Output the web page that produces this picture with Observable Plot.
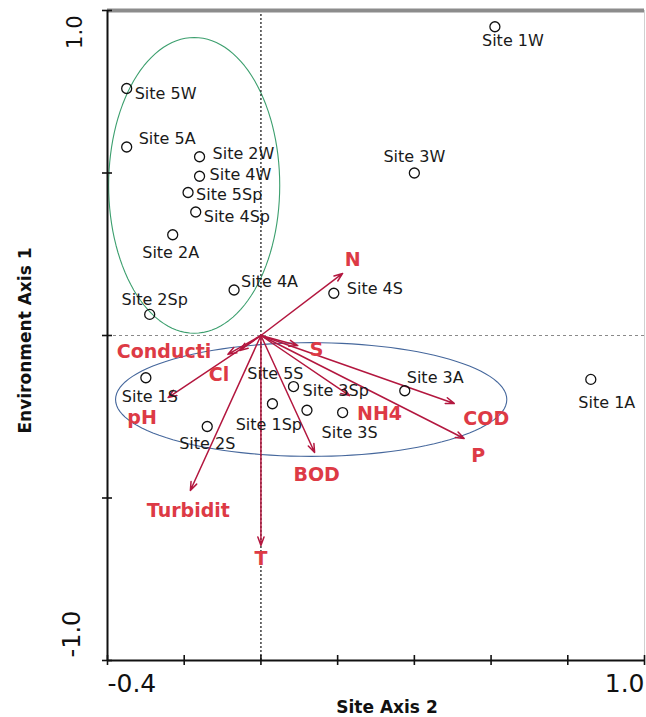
<!DOCTYPE html>
<html><head><meta charset="utf-8">
<script src="https://cdn.jsdelivr.net/npm/d3@7"></script>
<script src="https://cdn.jsdelivr.net/npm/@observablehq/plot@0.6"></script>
<style>
body{margin:0;background:#fff;}
#chart{width:646px;height:717px;overflow:hidden;}
g[aria-label="site-label"] text{letter-spacing:1.1px}
g[aria-label="env-label"] text{letter-spacing:1.8px}
g[aria-label="tick-label"] text{letter-spacing:2px}
</style>
</head><body><div id="chart"></div>
<script>
// ---- data ----
const siteNames = ["Site 1W","Site 5W","Site 5A","Site 2W","Site 4W","Site 5Sp","Site 4Sp","Site 2A","Site 4A","Site 2Sp","Site 3W","Site 4S","Site 1S","Site 1A","Site 3A","Site 3Sp","Site 5S","Site 1Sp","Site 3S","Site 2S"];
const siteX = [0.61,-0.35,-0.35,-0.16,-0.16,-0.19,-0.17,-0.23,-0.07,-0.29,0.40,0.19,-0.30,0.86,0.375,0.085,0.03,0.12,0.213,-0.14];
const siteY = [0.95,0.76,0.58,0.55,0.49,0.44,0.38,0.31,0.14,0.065,0.50,0.13,-0.13,-0.135,-0.17,-0.157,-0.21,-0.23,-0.237,-0.28];

const envNames = ["N","S","Conducti","Cl","pH","Turbidit","T","BOD","NH4","COD","P"];
const envX = [0.213,0.096,-0.055,-0.086,-0.242,-0.184,0,0.140,0.231,0.504,0.530];
const envY = [0.191,-0.031,-0.046,-0.058,-0.191,-0.477,-0.646,-0.360,-0.185,-0.209,-0.317];

const xTicks = [-0.4,-0.2,0,0.2,0.4,0.6,0.8,1.0];
const yTicks = [-1.0,-0.5,0,0.5,1.0];
const xTickLabels = ["-0.4","1.0"];
const xTickLabelValues = [-0.4,1.0];
const yTickLabels = ["1.0","-1.0"];
const yTickLabelValues = [1.0,-1.0];

// group envelopes (center x, center y, radius x, radius y)
const groupNames = ["winter/spring group","summer group"];
const groupCX = [-0.174,0.131];
const groupCY = [0.462,-0.197];
const groupRX = [0.223,0.510];
const groupRY = [0.455,0.175];

// ---- layout (label placements, pixel offsets) ----
const siteLabelPos = [
  [18,14,"middle"],[8,5,"start"],[12,-8,"start"],[13,-3,"start"],[10,-1,"start"],
  [8,2,"start"],[8,5,"start"],[-2,18,"middle"],[7,-8,"start"],[5,-15,"middle"],
  [0,-16,"middle"],[13,-4,"start"],[4,19,"middle"],[16,23,"middle"],[2,-13,"start"],
  [9,4,"start"],[3,-30,"middle"],[-5,15,"end"],[7,20,"middle"],[0,17,"middle"]
];
const envLabelPos = [
  [10,-14,"middle"],[12,4,"start"],[-123,1,"start"],[-9,21,"middle"],[-26,20,"middle"],
  [-2,20,"middle"],[0,13,"middle"],[2,22,"middle"],[30,18,"middle"],[32,15,"middle"],[14,17,"middle"]
];

const sites = siteNames.map((n,i)=>({name:n,x:siteX[i],y:siteY[i]}));
const envs = envNames.map((n,i)=>({name:n,x:envX[i],y:envY[i]}));
const ellipses = groupNames.map((g,k)=>d3.range(0,361,3).map(a=>({
  x: groupCX[k] + groupRX[k]*Math.cos(a*Math.PI/180),
  y: groupCY[k] + groupRY[k]*Math.sin(a*Math.PI/180)
})));
const ellipseColors = ["#3c9f6e","#45679c"];

const FONT = "DejaVu Sans";
const envColor = "#dd3a45";
const arrowColor = "#b3173f";

const marks = [
  ...ellipses.map((pts,k)=>Plot.line(pts,{x:"x",y:"y",stroke:ellipseColors[k],strokeWidth:1.1,curve:"linear"})),
  Plot.ruleY([0],{stroke:"#8a8a8a",strokeWidth:1,strokeDasharray:"3,3"}),
  Plot.ruleX([0],{stroke:"#222",strokeWidth:1.3,strokeDasharray:"2,2"}),
  Plot.ruleY([1.0],{stroke:"#8c8c8c",strokeWidth:4}),
  Plot.ruleX([1.0],{stroke:"#d0d0d0",strokeWidth:1}),
  Plot.ruleX([-0.4],{stroke:"#111",strokeWidth:2}),
  Plot.ruleY([-1.0],{stroke:"#111",strokeWidth:2}),
  Plot.ruleX(xTicks,{x:d=>d,y1:-1.0,y2:-1.0,insetTop:-5,insetBottom:-5,stroke:"#111",strokeWidth:1.6}),
  Plot.ruleY(yTicks,{y:d=>d,x1:-0.4,x2:-0.4,insetLeft:-5,insetRight:-5,stroke:"#111",strokeWidth:1.6}),
  // tick labels
  Plot.text([xTickLabelValues[0]],{x:d=>d,frameAnchor:"bottom",dy:23,lineAnchor:"middle",text:()=>xTickLabels[0],textAnchor:"start",fontSize:25,fill:"#111",fontFamily:FONT,ariaLabel:"tick-label"}),
  Plot.text([xTickLabelValues[1]],{x:d=>d,frameAnchor:"bottom",dy:23,lineAnchor:"middle",text:()=>xTickLabels[1],textAnchor:"end",fontSize:25,fill:"#111",fontFamily:FONT,ariaLabel:"tick-label"}),
  Plot.text([yTickLabelValues[0]],{y:d=>d,frameAnchor:"left",dx:-32,dy:5,rotate:-90,lineAnchor:"middle",text:()=>yTickLabels[0],textAnchor:"end",fontSize:21,fill:"#111",fontFamily:FONT}),
  Plot.text([yTickLabelValues[1]],{y:d=>d,frameAnchor:"left",dx:-35,dy:-3,rotate:-90,lineAnchor:"middle",text:()=>yTickLabels[1],textAnchor:"start",fontSize:24,fill:"#111",fontFamily:FONT}),
  // axis titles
  Plot.text(["Site Axis 2"],{frameAnchor:"bottom",dx:11,dy:47,lineAnchor:"middle",textAnchor:"middle",text:d=>d,fontWeight:"bold",fontSize:17,fill:"#111",fontFamily:FONT}),
  Plot.text(["Environment Axis 1"],{frameAnchor:"left",dx:-82,dy:5,rotate:-90,lineAnchor:"middle",textAnchor:"middle",text:d=>d,fontWeight:"bold",fontSize:17,fill:"#111",fontFamily:FONT}),
  // environmental arrows
  Plot.arrow(envs,{x1:0,y1:0,x2:"x",y2:"y",stroke:arrowColor,strokeWidth:1.5,headLength:9,headAngle:40}),
  // sites
  Plot.dot(sites,{x:"x",y:"y",r:5,stroke:"#111",strokeWidth:1.3,fill:"none"}),
  ...sites.map((s,i)=>Plot.text([s],{x:"x",y:"y",text:"name",dx:siteLabelPos[i][0],dy:siteLabelPos[i][1],textAnchor:siteLabelPos[i][2],fontSize:16,fill:"#1a1a1a",fontFamily:FONT,ariaLabel:"site-label"})),
  ...envs.map((e,i)=>Plot.text([e],{x:"x",y:"y",text:"name",dx:envLabelPos[i][0],dy:envLabelPos[i][1],textAnchor:envLabelPos[i][2],fontSize:19,fontWeight:"bold",fill:envColor,fontFamily:FONT,ariaLabel:"env-label"}))
];

const chart = Plot.plot({
  width:646, height:717,
  marginLeft:107, marginRight:2, marginTop:10, marginBottom:57,
  x:{domain:[-0.4,1.0],axis:null},
  y:{domain:[-1.0,1.0],axis:null},
  style:{fontFamily:FONT,background:"#fff",overflow:"visible"},
  marks
});
document.getElementById("chart").appendChild(chart);
</script>
</body></html>
